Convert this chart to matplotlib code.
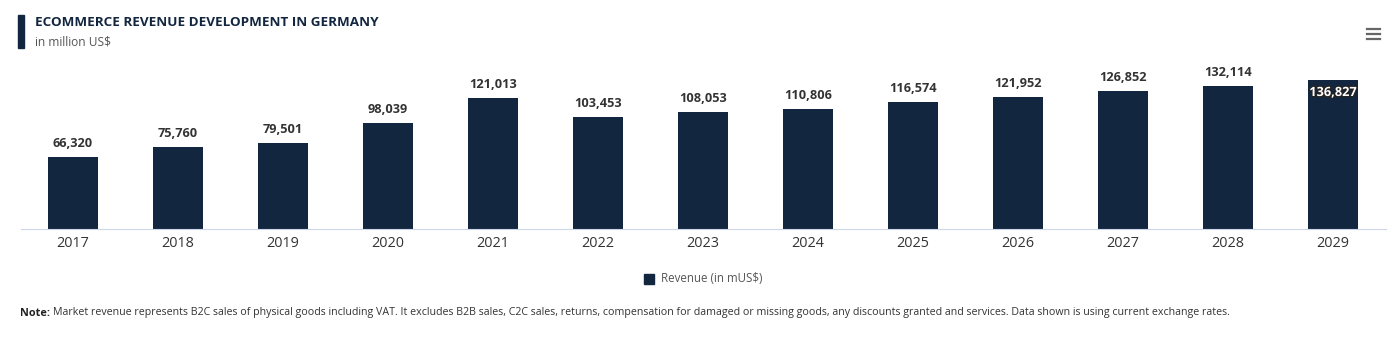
import matplotlib.pyplot as plt
import matplotlib.patheffects as pe
from matplotlib.lines import Line2D
from matplotlib.patches import Rectangle

plt.rcParams['font.family'] = ['Open Sans', 'DejaVu Sans']

years = ['2017', '2018', '2019', '2020', '2021', '2022', '2023',
         '2024', '2025', '2026', '2027', '2028', '2029']
revenue = [66320, 75760, 79501, 98039, 121013, 103453, 108053,
           110806, 116574, 121952, 126852, 132114, 136827]

navy = '#12263f'
W, H = 1398, 337

fig = plt.figure(figsize=(W / 100, H / 100), dpi=100)
ax = fig.add_axes([20.5 / W, (H - 229) / H, 1365 / W, 152 / H])

x = range(len(years))
ax.bar(x, revenue, width=0.476, color=navy, zorder=2)
ax.set_xlim(-0.5, len(years) - 0.5)
ax.set_ylim(0, 140000)
ax.set_xticks(list(x))
ax.set_xticklabels(years, fontsize=10.4, color='#333333')
ax.tick_params(axis='x', length=0, pad=5)
ax.set_yticks([])
for side in ['top', 'right', 'left']:
    ax.spines[side].set_visible(False)
ax.spines['bottom'].set_color('#ccd6eb')

for i, v in enumerate(revenue):
    label = f'{v:,}'
    if i == len(revenue) - 1:
        ax.annotate(label, (i, v), xytext=(0, -4), textcoords='offset points',
                    ha='center', va='top', fontsize=9.2, fontweight='bold',
                    color='white',
                    path_effects=[pe.withStroke(linewidth=2, foreground='#222222')])
    else:
        ax.annotate(label, (i, v), xytext=(0, 5), textcoords='offset points',
                    ha='center', va='bottom', fontsize=9.2, fontweight='bold',
                    color='#333333')

# title block
fig.patches.append(Rectangle((18 / W, 1 - 48 / H), 6 / W, 33 / H,
                             transform=fig.transFigure, color=navy))
fig.text(35 / W, 1 - 22 / H, 'ECOMMERCE REVENUE DEVELOPMENT IN GERMANY',
         fontsize=9.7, fontweight='bold', color=navy, va='center')
fig.text(35 / W, 1 - 42 / H, 'in million US$', fontsize=8.6, color='#555555',
         va='center')

# menu icon
for yy in [29, 34, 39]:
    fig.add_artist(Line2D([1367 / W, 1380 / W], [1 - yy / H, 1 - yy / H],
                          transform=fig.transFigure, color='#666666',
                          linewidth=1.6))

# legend
fig.patches.append(Rectangle((644 / W, 1 - 284 / H), 10 / W, 10 / H,
                             transform=fig.transFigure, color=navy))
fig.text(661 / W, 1 - 279 / H, 'Revenue (in mUS$)', fontsize=8.3,
         color='#555555', va='center')

# footnote: bold lead-in, then the rest placed right after it
note_head = fig.text(20 / W, 1 - 313 / H, 'Note:', fontsize=7.8,
                     fontweight='bold', color='#222222', va='center')
renderer = fig.canvas.get_renderer()
bb = note_head.get_window_extent(renderer)
fig.text((bb.x1 + 3) / W, 1 - 313 / H,
         'Market revenue represents B2C sales of physical goods including VAT. '
         'It excludes B2B sales, C2C sales, returns, compensation for damaged or missing '
         'goods, any discounts granted and services. Data shown is using current exchange rates.',
         fontsize=7.7, color='#333333', va='center')

fig.savefig('out.png', dpi=100)
